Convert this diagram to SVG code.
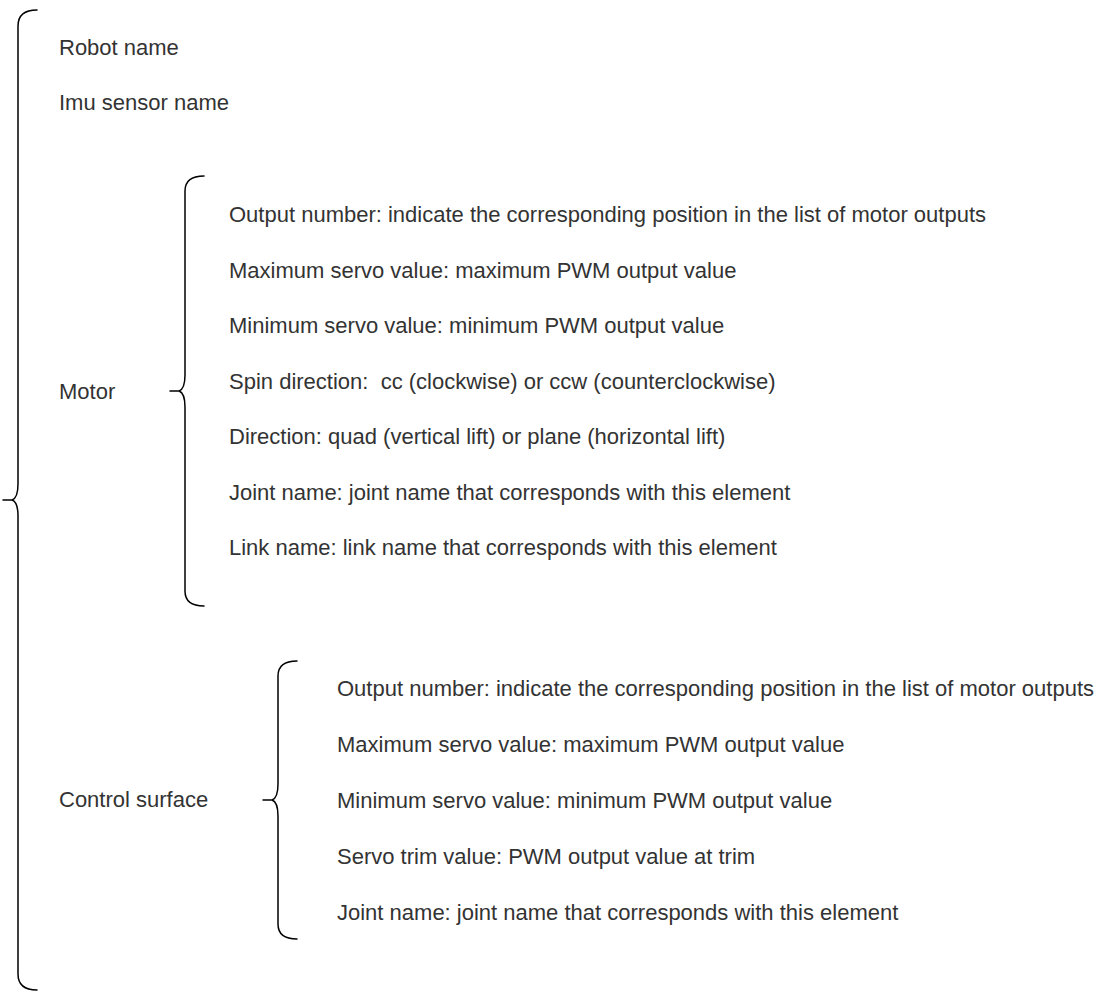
<svg xmlns="http://www.w3.org/2000/svg" width="1110" height="992" viewBox="0 0 1110 992">
  <style>
    .t { font-family: "Liberation Sans", Arial, sans-serif; font-size: 22px; fill: #333333; white-space: pre; }
    .b { fill: none; stroke: #000000; stroke-width: 1.5; stroke-linecap: round; stroke-linejoin: round; }
  </style>
  <rect x="0" y="0" width="1110" height="992" fill="#ffffff"/>
  <g id="connectors">
    <path id="brace-root" class="b" d="M37,10 Q18,10 18,26 L18,484 Q18,498 12,500 L3,500 M12,500 Q18,502 18,516 L18,974 Q18,990 37,990"/>
    <path id="brace-motor" class="b" d="M204,176 Q185,176 185,191 L185,375 Q185,389 179,391 L170,391 M179,391 Q185,393 185,407 L185,591 Q185,606 204,606"/>
    <path id="brace-cs" class="b" d="M297,661 Q278,661 278,676 L278,784 Q278,798 272,800 L263,800 M272,800 Q278,802 278,816 L278,924 Q278,939 297,939"/>
  </g>
  <g id="robot-name"><text class="t" x="59" y="55">Robot name</text></g>
  <g id="imu-sensor-name"><text class="t" x="59" y="110">Imu sensor name</text></g>
  <g id="motor"><text class="t" x="59" y="399">Motor</text></g>
  <g id="motor-items">
    <g id="motor-output"><text class="t" x="229" y="222">Output number: indicate the corresponding position in the list of motor outputs</text></g>
    <g id="motor-max"><text class="t" x="229" y="277.5">Maximum servo value: maximum PWM output value</text></g>
    <g id="motor-min"><text class="t" x="229" y="333">Minimum servo value: minimum PWM output value</text></g>
    <g id="motor-spin"><text class="t" x="229" y="388.5">Spin direction:  cc (clockwise) or ccw (counterclockwise)</text></g>
    <g id="motor-direction"><text class="t" x="229" y="444">Direction: quad (vertical lift) or plane (horizontal lift)</text></g>
    <g id="motor-joint"><text class="t" x="229" y="499.5">Joint name: joint name that corresponds with this element</text></g>
    <g id="motor-link"><text class="t" x="229" y="555">Link name: link name that corresponds with this element</text></g>
  </g>
  <g id="control-surface"><text class="t" x="59" y="807">Control surface</text></g>
  <g id="cs-items">
    <g id="cs-output"><text class="t" x="337" y="695.5">Output number: indicate the corresponding position in the list of motor outputs</text></g>
    <g id="cs-max"><text class="t" x="337" y="751.5">Maximum servo value: maximum PWM output value</text></g>
    <g id="cs-min"><text class="t" x="337" y="807.5">Minimum servo value: minimum PWM output value</text></g>
    <g id="cs-trim"><text class="t" x="337" y="863.5">Servo trim value: PWM output value at trim</text></g>
    <g id="cs-joint"><text class="t" x="337" y="919.5">Joint name: joint name that corresponds with this element</text></g>
  </g>
</svg>
